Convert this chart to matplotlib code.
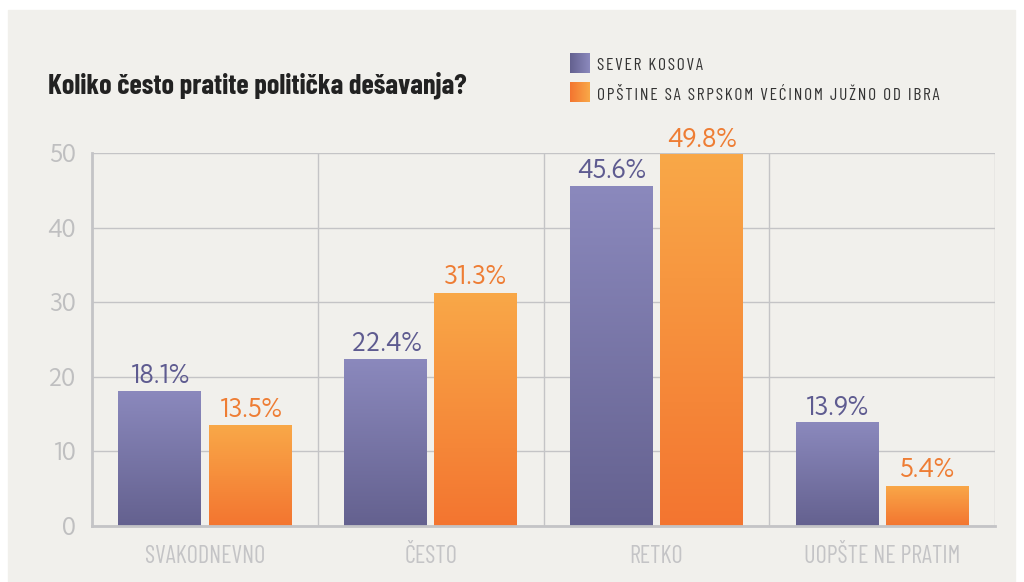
import numpy as np
import matplotlib.pyplot as plt
from matplotlib import font_manager
from matplotlib.patches import Rectangle
from matplotlib.colors import LinearSegmentedColormap

categories = ["SVAKODNEVNO", "ČESTO", "RETKO", "UOPŠTE NE PRATIM"]
sever = [18.1, 22.4, 45.6, 13.9]
juzno = [13.5, 31.3, 49.8, 5.4]
series_names = ["SEVER KOSOVA", "OPŠTINE SA SRPSKOM VEĆINOM JUŽNO OD IBRA"]
yticks = [0, 10, 20, 30, 40, 50]

BG = "#f1f0ec"
GRID = "#c4c4c6"
PURPLE_TOP, PURPLE_BOT = "#8b89bd", "#64618f"
ORANGE_TOP, ORANGE_BOT = "#f9a848", "#f37530"
PURPLE_TXT, ORANGE_TXT = "#5e5b90", "#ee7d34"

installed = {f.name for f in font_manager.fontManager.ttflist}


def first_of(*fams):
    return [f for f in fams if f in installed][:1] + ["DejaVu Sans"]


NARROW = first_of("Barlow Condensed", "Roboto Condensed")
ROUND = first_of("Kumbh Sans", "Outfit", "Lexend", "Lato")


def gradient_bars(ax, x, heights, width, top, bot):
    cmap = LinearSegmentedColormap.from_list("g", [bot, top])
    bars = ax.bar(x, heights, width, color="none", edgecolor="none")
    grad = np.linspace(0, 1, 256).reshape(-1, 1)
    for b in bars:
        x0, h = b.get_x(), b.get_height()
        im = ax.imshow(grad, cmap=cmap, origin="lower", aspect="auto",
                       extent=[x0, x0 + width, 0, h], zorder=2)
        im.set_clip_path(b)
    return bars


fig = plt.figure(figsize=(10.24, 5.82), dpi=100)
fig.patch.set_facecolor("white")
fig.patches.append(Rectangle((8 / 1024, 0), 1007 / 1024, 1 - 10 / 582,
                             transform=fig.transFigure, color=BG, zorder=-10))

ax = fig.add_axes([92 / 1024, 1 - 526 / 582, 903 / 1024, 373 / 582])
ax.set_facecolor(BG)
x = np.arange(len(categories))
w = 0.367
gradient_bars(ax, x - 0.2, sever, w, PURPLE_TOP, PURPLE_BOT)
gradient_bars(ax, x + 0.2, juzno, w, ORANGE_TOP, ORANGE_BOT)

for xi, v in zip(x - 0.2, sever):
    ax.text(xi, v + 0.3, f"{v}%", ha="center", va="bottom", fontsize=18,
            color=PURPLE_TXT, family=ROUND, weight="light", clip_on=False)
for xi, v in zip(x + 0.2, juzno):
    ax.text(xi, v + 0.3, f"{v}%", ha="center", va="bottom", fontsize=18,
            color=ORANGE_TXT, family=ROUND, weight="light", clip_on=False)

ax.set_xlim(-0.5, len(categories) - 0.5)
ax.set_ylim(0, 50)
ax.set_yticks(yticks)
ax.set_yticklabels([str(t) for t in yticks], family=ROUND, weight="light",
                   fontsize=17, color="#bfbfc0")
ax.set_xticks(x)
ax.set_xticklabels(categories, family=NARROW, weight="normal", fontsize=17.5, color="#c4c4c6")
ax.tick_params(length=0)
ax.tick_params(axis="y", pad=12)
ax.tick_params(axis="x", pad=14)
for xs in np.arange(0.5, len(categories), 1):
    ax.axvline(xs, color=GRID, lw=1, zorder=1)
ax.grid(axis="y", color=GRID, lw=1, zorder=1)
ax.set_axisbelow(True)
for s in ["top", "right"]:
    ax.spines[s].set_visible(False)
for s in ["left", "bottom"]:
    ax.spines[s].set_color(GRID)
    ax.spines[s].set_linewidth(2)

fig.text(48 / 1024, 1 - 85 / 582, "Koliko često pratite politička dešavanja?",
         family=NARROW, weight="bold", fontsize=20.3, color="#222222", va="center")

for i, (name, top, bot) in enumerate(zip(series_names, [PURPLE_TOP, ORANGE_TOP],
                                         [PURPLE_BOT, ORANGE_BOT])):
    yc = 1 - (63 + i * 29) / 582
    cax = fig.add_axes([570 / 1024, yc - 10 / 582, 20 / 1024, 20 / 582])
    cax.imshow(np.linspace(0, 1, 64).reshape(1, -1),
               cmap=LinearSegmentedColormap.from_list("l", [bot, top]), aspect="auto")
    cax.axis("off")
    spaced = "\u200a".join(name)
    fig.text(597 / 1024, yc - 3 / 582, spaced, family=NARROW, fontsize=12.5,
             color="#333333", va="center")

fig.savefig("out.png", dpi=100, facecolor=fig.get_facecolor())
